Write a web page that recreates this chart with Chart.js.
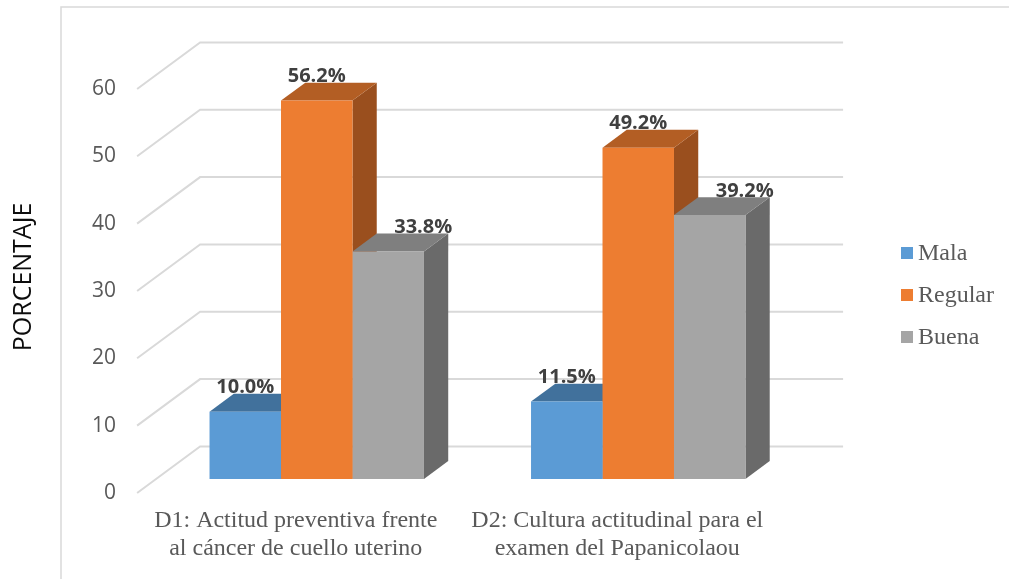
<!DOCTYPE html>
<html lang="es">
<head>
<meta charset="utf-8">
<title>Actitud frente al cáncer de cuello uterino</title>
<script src="https://cdn.jsdelivr.net/npm/chart.js@4.4.1/dist/chart.umd.min.js"></script>
<style>
  html, body { margin: 0; padding: 0; background: #ffffff; }
  #wrap { width: 1009px; height: 579px; position: relative; }
</style>
</head>
<body>
<div id="wrap"><canvas id="chart" width="1009" height="579"></canvas></div>
<script>
// Categories (two-line axis labels)
const categories = [
  ['D1: Actitud preventiva frente', 'al cáncer de cuello uterino'],
  ['D2: Cultura actitudinal para el', 'examen del Papanicolaou']
];
// Series values (%)
const seriesNames = ['Mala', 'Regular', 'Buena'];
const mala    = [10.0, 11.5];
const regular = [56.2, 49.2];
const buena   = [33.8, 39.2];
// Value axis
const yMin = 0, yMax = 60, yStep = 10;
const yTitle = 'PORCENTAJE';

// Face colours: front, top, side
const palette = {
  front: ['#5B9BD5', '#ED7D31', '#A5A5A5'],
  top:   ['#41719C', '#B35E24', '#7F7F7F'],
  side:  ['#3B6790', '#9A4F1E', '#6A6A6A']
};
// Horizontal nudge of each series' value label (keeps "Buena" clear of the taller bar)
const labelShift = [0, 0, 35];

// 3D depth of the plot box (pixels) and where the bars sit inside it
const DEPTH = { dx: 63, dy: -46.5, front: 0.30, barBack: 0.685 };
const GRID_COLOR = '#D9D9D9';

// Walls: side wall diagonals and back wall lines at every tick
const wallsPlugin = {
  id: 'walls',
  beforeDatasetsDraw(chart) {
    const { ctx, chartArea, scales } = chart;
    const y = scales.y;
    const fx = -DEPTH.front * DEPTH.dx, fy = -DEPTH.front * DEPTH.dy;
    const bx = (1 - DEPTH.front) * DEPTH.dx, by = (1 - DEPTH.front) * DEPTH.dy;
    ctx.save();
    ctx.strokeStyle = GRID_COLOR;
    ctx.lineWidth = 2;
    y.ticks.forEach(t => {
      const py = y.getPixelForValue(t.value);
      ctx.beginPath();
      ctx.moveTo(chartArea.left + fx, py + fy);
      ctx.lineTo(chartArea.left + bx, py + by);
      ctx.lineTo(chartArea.right + bx, py + by);
      ctx.stroke();
    });
    ctx.restore();

    // top and side faces of each bar, painted left to right
    const sx = (DEPTH.barBack - DEPTH.front) * DEPTH.dx;
    const sy = (DEPTH.barBack - DEPTH.front) * DEPTH.dy;
    ctx.save();
    const n = chart.data.labels.length;
    for (let j = 0; j < n; j++) {
      chart.data.datasets.forEach((ds, i) => {
        const el = chart.getDatasetMeta(i).data[j];
        const l = el.x - el.width / 2, r = el.x + el.width / 2;
        const top = el.y, base = el.base;
        ctx.fillStyle = palette.side[i];
        ctx.beginPath();
        ctx.moveTo(r, top); ctx.lineTo(r + sx, top + sy);
        ctx.lineTo(r + sx, base + sy); ctx.lineTo(r, base);
        ctx.closePath(); ctx.fill();
        ctx.fillStyle = palette.top[i];
        ctx.beginPath();
        ctx.moveTo(l, top); ctx.lineTo(r, top);
        ctx.lineTo(r + sx, top + sy); ctx.lineTo(l + sx, top + sy);
        ctx.closePath(); ctx.fill();
      });
    }
    ctx.restore();
  },
  afterDatasetsDraw(chart) {
    // value labels above each bar
    const { ctx } = chart;
    const sy = (DEPTH.barBack - DEPTH.front) * DEPTH.dy;
    ctx.save();
    ctx.font = 'bold 20px "Open Sans", sans-serif';
    ctx.fillStyle = '#404040';
    ctx.textAlign = 'center';
    ctx.textBaseline = 'alphabetic';
    chart.data.datasets.forEach((ds, i) => {
      chart.getDatasetMeta(i).data.forEach((el, j) => {
        ctx.fillText(ds.data[j].toFixed(1) + '%', el.x + labelShift[i], el.y + sy - 0.5);
      });
    });
    ctx.restore();
  }
};

// Frame lines and the legend on the right
const framePlugin = {
  id: 'frame',
  beforeDraw(chart) {
    const { ctx } = chart;
    ctx.save();
    ctx.strokeStyle = '#D9D9D9';
    ctx.lineWidth = 1.5;
    ctx.beginPath();
    ctx.moveTo(61, chart.height);
    ctx.lineTo(61, 7);
    ctx.lineTo(chart.width, 7);
    ctx.stroke();
    ctx.restore();
  },
  afterDraw(chart) {
    const { ctx } = chart;
    const x0 = 901, y0 = 253, gap = 42, box = 12;
    ctx.save();
    ctx.font = '24px "Liberation Serif", "Times New Roman", serif';
    ctx.textBaseline = 'middle';
    ctx.textAlign = 'left';
    chart.data.datasets.forEach((ds, i) => {
      const yc = y0 + i * gap;
      ctx.fillStyle = ds.backgroundColor;
      ctx.fillRect(x0, yc - box / 2, box, box);
      ctx.fillStyle = '#595959';
      ctx.fillText(ds.label, x0 + box + 5, yc + 1);
    });
    ctx.restore();
  }
};

const yTicks = [];
for (let v = yMin; v <= yMax; v += yStep) yTicks.push(v);

new Chart(document.getElementById('chart'), {
  type: 'bar',
  data: {
    labels: categories,
    datasets: [
      { label: seriesNames[0], data: mala,    backgroundColor: palette.front[0] },
      { label: seriesNames[1], data: regular, backgroundColor: palette.front[1] },
      { label: seriesNames[2], data: buena,   backgroundColor: palette.front[2] }
    ]
  },
  options: {
    responsive: false,
    devicePixelRatio: 1,
    animation: false,
    layout: { padding: { left: 0, top: 75, right: 210, bottom: 0 } },
    datasets: {
      bar: { categoryPercentage: 0.667, barPercentage: 1.0, borderWidth: 0, inflateAmount: 0 }
    },
    plugins: {
      legend: { display: false },
      tooltip: { enabled: false }
    },
    scales: {
      x: {
        grid: { display: false, drawTicks: false },
        border: { display: false },
        ticks: {
          autoSkip: false, maxRotation: 0, minRotation: 0,
          padding: 28, labelOffset: -21,
          color: '#595959',
          font: { family: '"Liberation Serif", "Times New Roman", serif', size: 24, lineHeight: 1.17 }
        },
        afterFit(scale) { scale.height = 100; }
      },
      y: {
        min: yMin, max: yMax,
        grid: { display: false, drawTicks: false },
        border: { display: false },
        ticks: {
          stepSize: yStep, padding: 40, labelOffset: 14,
          color: '#595959',
          font: { family: '"Open Sans", sans-serif', size: 21 }
        },
        afterBuildTicks(scale) { scale.ticks = yTicks.map(v => ({ value: v })); },
        title: {
          display: true, text: yTitle, color: '#0d0d0d',
          font: { family: '"Open Sans", sans-serif', size: 25, lineHeight: 1.2 },
          padding: { top: 9, bottom: 0 }
        },
        afterFit(scale) { scale.width = 156; }
      }
    }
  },
  plugins: [wallsPlugin, framePlugin]
});
</script>
</body>
</html>
